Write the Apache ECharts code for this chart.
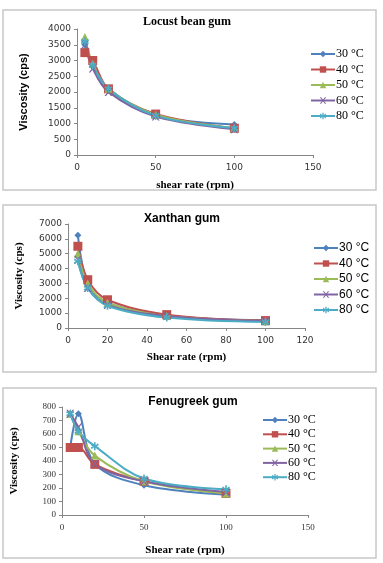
<!DOCTYPE html>
<html lang="en">
<head>
<meta charset="UTF-8">
<title>Viscosity vs shear rate</title>
<script src="https://cdn.jsdelivr.net/npm/echarts@6/dist/echarts.min.js"></script>
<style>
  html, body { margin: 0; padding: 0; background: #fff; }
  #chart { width: 383px; height: 563px; }
</style>
</head>
<body>
<div id="chart"></div>
<script>
// shear rates (rpm)
const shearRates = [5, 10, 20, 50, 100];
const tempNames = ['30 °C', '40 °C', '50 °C', '60 °C', '80 °C'];

// Locust bean gum viscosity (cps)
const locust30 = [3500, 2800, 2050, 1250, 970];
const locust40 = [3250, 3000, 2100, 1300, 850];
const locust50 = [3750, 2900, 2100, 1280, 850];
const locust60 = [3500, 2750, 2000, 1220, 820];
const locust80 = [3600, 2850, 2100, 1250, 850];

// Xanthan gum
const xanthan30 = [6250, 3000, 1700, 850, 520];
const xanthan40 = [5500, 3250, 1900, 900, 500];
const xanthan50 = [5000, 3000, 1700, 800, 450];
const xanthan60 = [4600, 2700, 1550, 800, 450];
const xanthan80 = [4500, 2700, 1500, 700, 400];

// Fenugreek gum
const fenu30 = [500, 750, 380, 220, 150];
const fenu40 = [500, 500, 375, 250, 160];
const fenu50 = [750, 620, 440, 250, 160];
const fenu60 = [750, 650, 380, 250, 170];
const fenu80 = [750, 620, 510, 270, 190];

const colors = ['#4F81BD', '#C0504D', '#9BBB59', '#8064A2', '#4BACC6'];
const symbols = [
  'diamond', 'rect', 'triangle',
  'path://M0,0 L2,0 L5,3 L8,0 L10,0 L6,4 L10,8 L8,8 L5,5 L2,8 L0,8 L4,4 Z',
  'path://M4,0 L6,0 L6,3 L9,1 L10,3 L7,4 L10,5 L9,7 L6,5 L6,8 L4,8 L4,5 L1,7 L0,5 L3,4 L0,3 L1,1 L4,3 Z'
];
const symbolSizes = [7, 9, 8, 8, 8];

const serif = 'Liberation Serif';
const sans = 'Liberation Sans';

const panels = [
  { title: 'Locust bean gum', titleX: 182, titleY: 11, titleFont: serif,
    xName: 'shear rate (rpm)', yName: 'Viscosity (cps)', yNameFont: sans,
    labelFont: 'DejaVu Sans', legendFont: serif,
    grid: { left: 77, right: 70, top: 29, bottom: 408 },
    xMax: 150, xInt: 50, yMax: 4000, yInt: 500, xGap: 25, yGap: 48,
    legend: { left: 305, top: 43, gap: 3.5 },
    data: [locust30, locust40, locust50, locust60, locust80] },
  { title: 'Xanthan gum', titleX: 177, titleY: 208, titleFont: sans,
    xName: 'Shear rate (rpm)', yName: 'Viscosity (cps)', yNameFont: serif,
    labelFont: 'DejaVu Sans', legendFont: sans,
    grid: { left: 68, right: 78, top: 224, bottom: 235 },
    xMax: 120, xInt: 20, yMax: 7000, yInt: 1000, xGap: 24, yGap: 43,
    legend: { left: 308, top: 237, gap: 3.5 },
    data: [xanthan30, xanthan40, xanthan50, xanthan60, xanthan80] },
  { title: 'Fenugreek gum', titleX: 188, titleY: 391, titleFont: sans,
    xName: 'Shear rate (rpm)', yName: 'Viscosity (cps)', yNameFont: serif,
    labelFont: serif, legendFont: serif,
    grid: { left: 62, right: 75, top: 407, bottom: 48 },
    xMax: 150, xInt: 50, yMax: 800, yInt: 100, xGap: 30, yGap: 42,
    legend: { left: 257, top: 409, gap: 2.3 },
    data: [fenu30, fenu40, fenu50, fenu60, fenu80] }
];

const chart = echarts.init(document.getElementById('chart'));

const option = {
  animation: false,
  backgroundColor: '#fff',
  graphic: [
    { type: 'rect', shape: { x: 3, y: 10, width: 373, height: 180 }, style: { fill: 'none', stroke: '#c8c8c8', lineWidth: 1.5 } },
    { type: 'rect', shape: { x: 3, y: 205, width: 373, height: 167 }, style: { fill: 'none', stroke: '#c8c8c8', lineWidth: 1.5 } },
    { type: 'rect', shape: { x: 3, y: 388, width: 373, height: 170 }, style: { fill: 'none', stroke: '#c8c8c8', lineWidth: 1.5 } }
  ],
  title: [], grid: [], xAxis: [], yAxis: [], legend: [], series: []
};

panels.forEach((p, i) => {
  option.title.push({
    text: p.title, left: p.titleX, top: p.titleY, textAlign: 'center',
    textStyle: { fontFamily: p.titleFont, fontWeight: 'bold', fontSize: 12, color: '#000' }
  });
  option.grid.push(p.grid);
  option.xAxis.push({
    type: 'value', gridIndex: i, min: 0, max: p.xMax, interval: p.xInt,
    name: p.xName, nameLocation: 'middle', nameGap: p.xGap,
    nameTextStyle: { fontFamily: serif, fontWeight: 'bold', fontSize: 11, color: '#000' },
    axisLine: { lineStyle: { color: '#868686' } },
    axisTick: { show: true, length: 3, lineStyle: { color: '#868686' } },
    axisLabel: { fontFamily: p.labelFont, fontSize: 9, color: '#333', formatter: v => String(v) },
    splitLine: { show: false }
  });
  option.yAxis.push({
    type: 'value', gridIndex: i, min: 0, max: p.yMax, interval: p.yInt,
    name: p.yName, nameLocation: 'middle', nameGap: p.yGap, nameRotate: 90,
    nameTextStyle: { fontFamily: p.yNameFont, fontWeight: 'bold', fontSize: 11, color: '#000' },
    axisLine: { show: true, lineStyle: { color: '#868686' } },
    axisTick: { show: true, length: 3, lineStyle: { color: '#868686' } },
    axisLabel: { fontFamily: p.labelFont, fontSize: 9, color: '#333', margin: 6, formatter: v => String(v) },
    splitLine: { show: false }
  });
  option.legend.push({
    orient: 'vertical', left: p.legend.left, top: p.legend.top,
    itemGap: p.legend.gap, itemWidth: 24, itemHeight: 8,
    data: tempNames,
    textStyle: { fontFamily: p.legendFont, fontSize: 12, color: '#000', padding: [0, 0, 0, -4] }
  });
  p.data.forEach((vals, k) => {
    option.series.push({
      name: tempNames[k], type: 'line', xAxisIndex: i, yAxisIndex: i,
      data: shearRates.map((x, j) => [x, vals[j]]),
      smooth: 0.35,
      symbol: symbols[k], symbolSize: symbolSizes[k],
      color: colors[k],
      lineStyle: { width: 2, color: colors[k] },
      itemStyle: { color: colors[k] }
    });
  });
});

chart.setOption(option);
</script>
</body>
</html>
